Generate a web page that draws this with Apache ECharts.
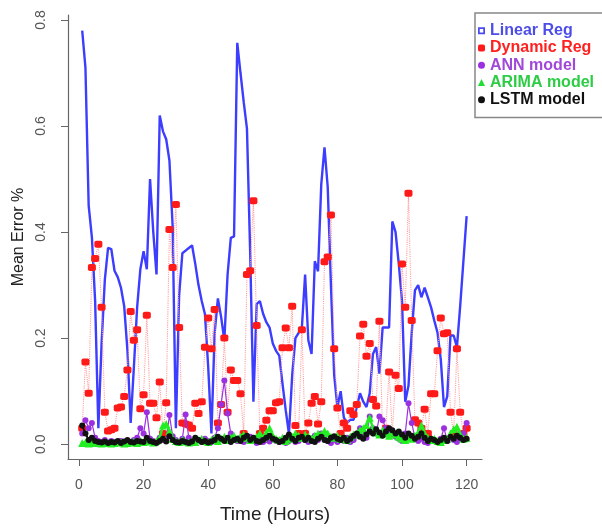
<!DOCTYPE html>
<html>
<head>
<meta charset="utf-8">
<script src="https://cdn.jsdelivr.net/npm/echarts@6/dist/echarts.min.js"></script>
<style>
  html, body { margin: 0; padding: 0; background: #ffffff; }
  #chart { width: 602px; height: 529px; }
</style>
</head>
<body>
<div id="chart"></div>
<script>
// Hourly mean error (%) of five forecasting models over 120 hours
const hours = [];
for (let h = 1; h <= 120; h++) hours.push(h);

const linearReg = [
  0.78, 0.71, 0.45, 0.39, 0.27, 0.03, 0.19, 0.31, 0.37, 0.368,
  0.327, 0.315, 0.295, 0.26, 0.177, 0.04, 0.146, 0.258, 0.33, 0.364,
  0.33, 0.50, 0.40, 0.32, 0.62, 0.59, 0.575, 0.535, 0.41, 0.03,
  0.28, 0.36, 0.365, 0.37, 0.375, 0.34, 0.30, 0.27, 0.245, 0.146,
  0.02, 0.21, 0.275, 0.24, 0.196, 0.32, 0.389, 0.392, 0.757, 0.70,
  0.645, 0.595, 0.36, 0.08, 0.264, 0.27, 0.246, 0.23, 0.22, 0.19,
  0.176, 0.167, 0.114, 0.064, 0.02, 0.13, 0.20, 0.21, 0.22, 0.32,
  0.196, 0.17, 0.345, 0.326, 0.49, 0.56, 0.485, 0.30, 0.13, 0.07,
  0.10, 0.05, 0.04, 0.046, 0.046, 0.07, 0.096, 0.08, 0.07, 0.096,
  0.17, 0.183, 0.133, 0.22, 0.22, 0.22, 0.42, 0.40, 0.34, 0.27,
  0.08, 0.11, 0.21, 0.29, 0.30, 0.277, 0.295, 0.277, 0.258, 0.233,
  0.21, 0.16, 0.07, 0.09, 0.205, 0.205, 0.183, 0.26, 0.345, 0.43
];

const dynamicReg = [
  0.03, 0.155, 0.096, 0.333, 0.35, 0.377, 0.258, 0.06, 0.025, 0.027,
  0.03, 0.068, 0.07, 0.09, 0.14, 0.25, 0.196, 0.216, 0.067, 0.093,
  0.243, 0.077, 0.077, 0.05, 0.117, 0.02, 0.078, 0.405, 0.333, 0.452,
  0.22, 0.04, 0.038, 0.036, 0.03, 0.077, 0.058, 0.08, 0.183, 0.238,
  0.18, 0.254, 0.04, 0.075, 0.20, 0.06, 0.14, 0.12, 0.12, 0.095,
  0.02, 0.32, 0.327, 0.459, 0.224, 0.02, 0.03, 0.045, 0.063, 0.063,
  0.078, 0.08, 0.182, 0.219, 0.182, 0.26, 0.035, 0.02, 0.216, 0.02,
  0.04, 0.077, 0.09, 0.038, 0.08, 0.344, 0.353, 0.432, 0.18, 0.068,
  0.02, 0.04, 0.03, 0.063, 0.056, 0.075, 0.204, 0.226, 0.166, 0.19,
  0.084, 0.072, 0.232, 0.02, 0.03, 0.136, 0.02, 0.13, 0.105, 0.34,
  0.258, 0.473, 0.233, 0.046, 0.04, 0.03, 0.066, 0.02, 0.095, 0.095,
  0.176, 0.238, 0.208, 0.21, 0.06, 0.02, 0.18, 0.06, 0.02, 0.03
];

const annModel = [
  0.02, 0.045, 0.03, 0.04, 0.012, 0.006, 0.004, 0.008, 0.003, 0.006,
  0.004, 0.002, 0.006, 0.003, 0.005, 0.004, 0.008, 0.012, 0.03, 0.02,
  0.06, 0.01, 0.006, 0.004, 0.012, 0.008, 0.006, 0.055, 0.015, 0.008,
  0.004, 0.01, 0.056, 0.012, 0.006, 0.003, 0.008, 0.004, 0.01, 0.006,
  0.004, 0.012, 0.03, 0.075, 0.12, 0.058, 0.02, 0.01, 0.006, 0.012,
  0.004, 0.008, 0.014, 0.006, 0.002, 0.01, 0.004, 0.008, 0.005, 0.012,
  0.006, 0.004, 0.008, 0.002, 0.006, 0.01, 0.004, 0.006, 0.012, 0.008,
  0.004, 0.01, 0.016, 0.008, 0.02, 0.012, 0.006, 0.002, 0.008, 0.004,
  0.01, 0.006, 0.012, 0.004, 0.008, 0.016, 0.03, 0.02, 0.012, 0.052,
  0.03, 0.02, 0.052, 0.045, 0.03, 0.024, 0.02, 0.014, 0.01, 0.006,
  0.02, 0.077, 0.04, 0.012, 0.006, 0.01, 0.004, 0.002, 0.008, 0.006,
  0.004, 0.01, 0.03, 0.006, 0.012, 0.008, 0.004, 0.01, 0.02, 0.04
];

const arimaModel = [
  0.002, 0.003, 0.001, 0.002, 0.004, 0.002, 0.001, 0.003, 0.002, 0.001,
  0.002, 0.004, 0.003, 0.001, 0.002, 0.003, 0.005, 0.002, 0.006, 0.004,
  0.008, 0.005, 0.003, 0.006, 0.012, 0.035, 0.038, 0.025, 0.01, 0.006,
  0.004, 0.008, 0.005, 0.003, 0.006, 0.004, 0.008, 0.01, 0.006, 0.004,
  0.008, 0.012, 0.006, 0.01, 0.014, 0.008, 0.012, 0.016, 0.01, 0.014,
  0.018, 0.012, 0.008, 0.01, 0.014, 0.02, 0.012, 0.022, 0.03, 0.016,
  0.01, 0.008, 0.012, 0.006, 0.01, 0.014, 0.02, 0.016, 0.012, 0.018,
  0.014, 0.01, 0.016, 0.02, 0.018, 0.025, 0.02, 0.014, 0.012, 0.016,
  0.01, 0.012, 0.008, 0.014, 0.018, 0.02, 0.026, 0.03, 0.036, 0.05,
  0.03, 0.022, 0.018, 0.026, 0.02, 0.016, 0.022, 0.018, 0.014, 0.01,
  0.008, 0.012, 0.01, 0.016, 0.022, 0.035, 0.02, 0.012, 0.008, 0.01,
  0.006, 0.004, 0.008, 0.01, 0.02, 0.028, 0.033, 0.018, 0.01, 0.012
];

const lstmModel = [
  0.035, 0.02, 0.008, 0.012, 0.006, 0.004, 0.003, 0.005, 0.002, 0.004,
  0.003, 0.006, 0.002, 0.005, 0.008, 0.004, 0.003, 0.006, 0.005, 0.004,
  0.012, 0.006, 0.004, 0.002, 0.006, 0.01, 0.005, 0.015, 0.008, 0.004,
  0.003, 0.006, 0.004, 0.002, 0.005, 0.012, 0.008, 0.004, 0.006, 0.003,
  0.005, 0.008, 0.014, 0.01, 0.006, 0.012, 0.004, 0.008, 0.01, 0.006,
  0.012, 0.016, 0.008, 0.012, 0.006, 0.004, 0.008, 0.012, 0.016, 0.01,
  0.008, 0.004, 0.006, 0.012, 0.018, 0.01, 0.006, 0.012, 0.014, 0.008,
  0.012, 0.006, 0.004, 0.01, 0.014, 0.008, 0.006, 0.012, 0.015, 0.01,
  0.008, 0.012, 0.006, 0.01, 0.016, 0.02, 0.014, 0.01, 0.018, 0.024,
  0.02, 0.028, 0.022, 0.016, 0.024, 0.03, 0.026, 0.02, 0.024, 0.018,
  0.012, 0.02, 0.016, 0.01, 0.014, 0.02, 0.012, 0.006, 0.01, 0.008,
  0.004, 0.008, 0.012, 0.006, 0.014, 0.01, 0.016, 0.012, 0.008, 0.01
];

const xTicks = [0, 20, 40, 60, 80, 100, 120];
const yTicks = [0, 0.2, 0.4, 0.6, 0.8];

const seriesNames = ['Linear Reg', 'Dynamic Reg', 'ANN model', 'ARIMA model', 'LSTM model'];

const pairs = vals => hours.map((h, i) => [h, vals[i]]);
const FONT = '"Liberation Sans", Arial, sans-serif';
// hollow square used as the Linear Reg key
const HOLLOW_SQUARE = 'path://M0,0H10V10H0Z M2.5,2.5V7.5H7.5V2.5Z';

const chart = echarts.init(document.getElementById('chart'), null, { renderer: 'canvas' });

chart.setOption({
  animation: false,
  backgroundColor: '#ffffff',
  grid: { left: 68, right: 120, top: 15, bottom: 66 },
  xAxis: {
    type: 'value',
    min: -3.4,
    max: 124.76,
    name: 'Time (Hours)',
    nameLocation: 'middle',
    nameGap: 46,
    nameTextStyle: { fontFamily: FONT, fontSize: 19, color: '#222' },
    splitLine: { show: false },
    axisLine: { onZero: false, lineStyle: { color: '#666', width: 1.2 } },
    axisTick: { customValues: xTicks, length: 7, lineStyle: { color: '#666' } },
    axisLabel: {
      customValues: xTicks,
      margin: 19,
      fontFamily: FONT, fontSize: 14, color: '#555',
      formatter: v => String(v)
    }
  },
  yAxis: {
    type: 'value',
    min: -0.028,
    max: 0.8094,
    name: 'Mean Error %',
    nameLocation: 'middle',
    nameGap: 36,
    nameRotate: 90,
    nameTextStyle: { fontFamily: FONT, fontSize: 16, color: '#222' },
    splitLine: { show: false },
    axisLine: { onZero: false, lineStyle: { color: '#666', width: 1.2 } },
    axisTick: { customValues: yTicks, length: 7, lineStyle: { color: '#666' } },
    axisLabel: {
      customValues: yTicks,
      rotate: 90,
      margin: 20,
      fontFamily: FONT, fontSize: 14, color: '#555',
      formatter: v => v.toFixed(1)
    }
  },
  legend: {
    orient: 'vertical',
    left: 475,
    top: 13,
    padding: [9, 40, 9, 3],
    itemGap: 0,
    itemWidth: 7,
    itemHeight: 7,
    borderColor: '#888',
    borderWidth: 1.5,
    selectedMode: false,
    textStyle: { fontFamily: FONT, fontSize: 16, fontWeight: 'bold', lineHeight: 17.3 },
    data: [
      { name: seriesNames[0], icon: HOLLOW_SQUARE, itemStyle: { color: '#4a4af5' }, textStyle: { color: '#4d4de8' } },
      { name: seriesNames[1], icon: 'roundRect', itemStyle: { color: '#ff1a1a' }, textStyle: { color: '#ff2020' } },
      { name: seriesNames[2], icon: 'circle', itemStyle: { color: '#9b30e0' }, textStyle: { color: '#a048d8' } },
      { name: seriesNames[3], icon: 'triangle', itemStyle: { color: '#22dd33' }, textStyle: { color: '#2ccc44' } },
      { name: seriesNames[4], icon: 'circle', itemStyle: { color: '#111111' }, textStyle: { color: '#111111' } }
    ]
  },
  series: [
    {
      name: seriesNames[0],
      type: 'line',
      data: pairs(linearReg),
      showSymbol: false,
      lineStyle: { color: '#3d3dff', width: 2.4 },
      itemStyle: { color: '#3d3dff' },
      z: 2
    },
    {
      name: seriesNames[1],
      type: 'line',
      data: pairs(dynamicReg),
      symbol: 'roundRect',
      symbolSize: [8, 7],
      lineStyle: { color: '#ff9c9c', width: 1.1, type: 'dotted' },
      itemStyle: { color: '#ff1a1a' },
      z: 3
    },
    {
      name: seriesNames[2],
      type: 'line',
      data: pairs(annModel),
      symbol: 'circle',
      symbolSize: 6,
      lineStyle: { color: '#9b30e0', width: 1.2 },
      itemStyle: { color: '#9b30e0' },
      z: 4
    },
    {
      name: seriesNames[3],
      type: 'line',
      data: pairs(arimaModel),
      symbol: 'triangle',
      symbolSize: 8,
      lineStyle: { color: '#22ee22', width: 2.5 },
      itemStyle: { color: '#22ee22' },
      z: 5
    },
    {
      name: seriesNames[4],
      type: 'line',
      data: pairs(lstmModel),
      symbol: 'circle',
      symbolSize: 6,
      lineStyle: { color: '#111111', width: 2 },
      itemStyle: { color: '#111111' },
      z: 6
    }
  ]
});
</script>
</body>
</html>
